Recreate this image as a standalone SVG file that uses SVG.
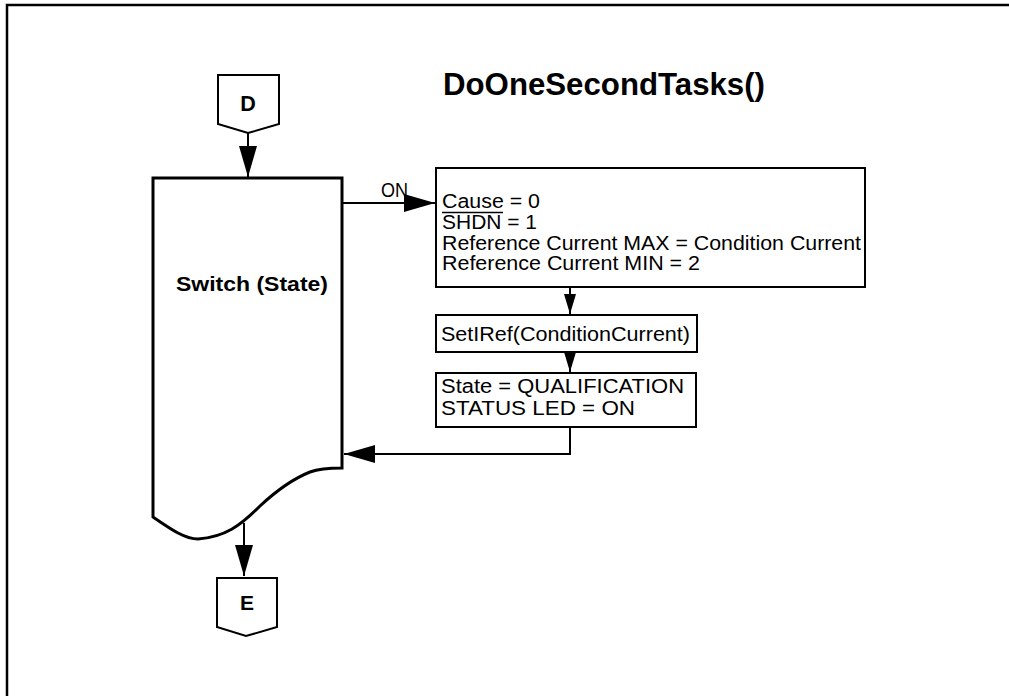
<svg xmlns="http://www.w3.org/2000/svg" width="1009" height="696" viewBox="0 0 1009 696">
<style>
.frame{fill:none;stroke:#000;stroke-width:2.5}
.thick{fill:#fff;stroke:#000;stroke-width:3}
.box{fill:#fff;stroke:#000;stroke-width:2}
.conn{fill:none;stroke:#000;stroke-width:2}
.t{font-family:"Liberation Sans",Arial,sans-serif;font-size:20px;fill:#000}
.b{font-family:"Liberation Sans",Arial,sans-serif;font-weight:bold;fill:#000}
</style>
<defs>
<marker id="ah" viewBox="0 0 10 10" refX="10" refY="5" markerUnits="userSpaceOnUse" markerWidth="31" markerHeight="18" orient="auto" preserveAspectRatio="none">
<path d="M0,0 L10,5 L0,10 Z" fill="#000"/>
</marker>
<marker id="ahs" viewBox="0 0 10 10" refX="10" refY="5" markerUnits="userSpaceOnUse" markerWidth="20" markerHeight="12" orient="auto" preserveAspectRatio="none">
<path d="M0,0 L10,5 L0,10 Z" fill="#000"/>
</marker>
</defs>
<path class="frame" d="M7,700 V5 H1012"/>
<text class="b" x="443" y="95" font-size="30.5" textLength="322" lengthAdjust="spacingAndGlyphs">DoOneSecondTasks()</text>

<g id="connectors">
<line class="conn" x1="248" y1="133" x2="248" y2="177" marker-end="url(#ah)"/>
<line class="conn" x1="342" y1="203" x2="435" y2="203" marker-end="url(#ah)"/>
<line class="conn" x1="570" y1="287" x2="570" y2="314" marker-end="url(#ahs)"/>
<line class="conn" x1="570" y1="352" x2="570" y2="372" marker-end="url(#ahs)"/>
<path class="conn" d="M570,427 V454 H344" marker-end="url(#ah)"/>
<line class="conn" x1="244" y1="523" x2="244" y2="576" marker-end="url(#ah)"/>
<text class="t" x="381" y="197" font-size="16" textLength="27" lengthAdjust="spacingAndGlyphs">ON</text>
</g>

<g id="nodeD">
<path class="box" d="M218,75 H279 V124 L248,133 L218,124 Z" stroke-width="1.5"/>
<text class="b" x="248" y="111" font-size="21.5" text-anchor="middle">D</text>
</g>

<g id="switch">
<path class="thick" d="M153,517 V178 H342 V468 C330,468 318,469 310,472 C290,480 275,492 260,506 C240,526 225,537 198,539 C185,539 172,530 153,517 Z"/>
<text class="b" x="176" y="291" font-size="21" textLength="152" lengthAdjust="spacingAndGlyphs">Switch (State)</text>
</g>

<g id="box1">
<rect class="box" x="436" y="168" width="429" height="119"/>
<text class="t" x="442" y="208" textLength="98" lengthAdjust="spacingAndGlyphs">Cause = 0</text>
<line x1="442" y1="212.5" x2="503" y2="212.5" stroke="#000" stroke-width="1.5"/>
<text class="t" x="442" y="229" textLength="95" lengthAdjust="spacingAndGlyphs">SHDN = 1</text>
<text class="t" x="442" y="249.5" textLength="419" lengthAdjust="spacingAndGlyphs">Reference Current MAX = Condition Current</text>
<text class="t" x="442" y="270" textLength="258" lengthAdjust="spacingAndGlyphs">Reference Current MIN = 2</text>
</g>

<g id="box2">
<rect class="box" x="436" y="315" width="261" height="37"/>
<text class="t" x="441" y="341" textLength="249" lengthAdjust="spacingAndGlyphs">SetIRef(ConditionCurrent)</text>
</g>

<g id="box3">
<rect class="box" x="436" y="373" width="260" height="54"/>
<text class="t" x="441" y="393" textLength="243" lengthAdjust="spacingAndGlyphs">State = QUALIFICATION</text>
<text class="t" x="441" y="415" textLength="194" lengthAdjust="spacingAndGlyphs">STATUS LED = ON</text>
</g>

<g id="nodeE">
<path class="box" d="M217,578 H277 V627 L246,636 L217,627 Z" stroke-width="1.5"/>
<text class="b" x="247" y="610" font-size="21" text-anchor="middle">E</text>
</g>
</svg>
